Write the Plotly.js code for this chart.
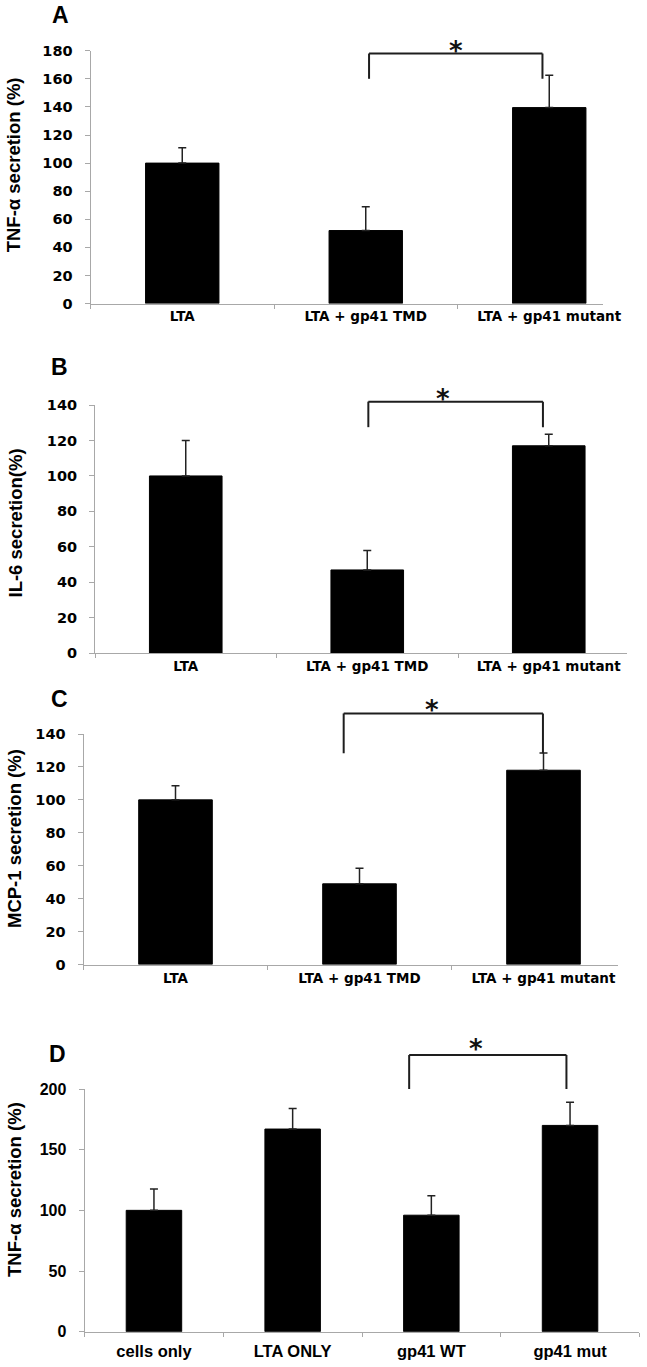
<!DOCTYPE html>
<html><head><meta charset="utf-8">
<script src="https://cdn.plot.ly/plotly-3.0.1.min.js"></script>
<style>html,body{margin:0;padding:0;background:#fff;}#chart{width:647px;height:1367px;}</style>
</head><body><div id="chart"></div>
<script>
// ---- data ----
const catsABC = ['LTA', 'LTA + gp41 TMD', 'LTA + gp41 mutant'];
const catsD = ['cells only', 'LTA ONLY', 'gp41 WT', 'gp41 mut'];
const tnfA = [100, 52, 139.5];
const tnfAErr = [11, 17, 23];
const il6B = [100, 47, 117];
const il6BErr = [20, 11, 6.5];
const mcpC = [100, 49, 118];
const mcpCErr = [8.5, 9.5, 10.5];
const tnfD = [100, 167, 96, 170];
const tnfDErr = [17.5, 17, 16, 19];
const ticksA = [0, 20, 40, 60, 80, 100, 120, 140, 160, 180];
const ticksBC = [0, 20, 40, 60, 80, 100, 120, 140];
const ticksD = [0, 50, 100, 150, 200];
const titles = ['TNF-\u03b1 secretion (%)', 'IL-6 secretion(%)', 'MCP-1 secretion (%)', 'TNF-\u03b1 secretion (%)'];
const letters = ['A', 'B', 'C', 'D'];

// ---- layout config (pixels) ----
const W = 647, H = 1367;
const panels = [
  {cats: catsABC, vals: tnfA, errs: tnfAErr, ticks: ticksA, yMax: 180,
   left: 90.5, unit: 183.5, xEnd: 2.293, top: 50.7, bottom: 303.6,
   titleX: 13.3, titleY: 165, letterX: 60, letterY: 15,
   font: 'DejaVu Sans', tickSize: 14.5, catSize: 13.5, catStand: 0,
   br: {x0: 1.018, x1: 1.963, top: 178, bottom: 160, starX: 1.49, starY: 184.8}},
  {cats: catsABC, vals: il6B, errs: il6BErr, ticks: ticksBC, yMax: 140,
   left: 95, unit: 181.5, xEnd: 2.43, top: 405, bottom: 653.3,
   titleX: 14.5, titleY: 523, letterX: 59, letterY: 366.7,
   font: 'DejaVu Sans', tickSize: 14.5, catSize: 13.5, catStand: 0,
   br: {x0: 1.006, x1: 1.968, top: 141.9, bottom: 127.5, starX: 1.42, starY: 147.5}},
  {cats: catsABC, vals: mcpC, errs: mcpCErr, ticks: ticksBC, yMax: 140,
   left: 83.5, unit: 184, xEnd: 2.405, top: 734, bottom: 964.5,
   titleX: 14, titleY: 839, letterX: 59, letterY: 699,
   font: 'DejaVu Sans', tickSize: 14.5, catSize: 13.5, catStand: 1,
   br: {x0: 0.914, x1: 1.997, top: 152.5, bottom: 128.3, starX: 1.393, starY: 158.6}},
  {cats: catsD, vals: tnfD, errs: tnfDErr, ticks: ticksD, yMax: 200,
   left: 84.6, unit: 138.7, xEnd: 3.5, top: 1089, bottom: 1331.7,
   titleX: 14, titleY: 1190, letterX: 57, letterY: 1054,
   font: 'Liberation Sans', tickSize: 16, catSize: 16.5, catStand: 4,
   br: {x0: 1.84, x1: 2.974, top: 228, bottom: 200, starX: 2.325, starY: 239}}
];

const AXC = '#a8a8a8';
const traces = [];
const layout = {
  width: W, height: H, margin: {l: 0, r: 0, t: 0, b: 0},
  paper_bgcolor: '#fff', plot_bgcolor: '#fff', showlegend: false,
  shapes: [], annotations: []
};

panels.forEach((p, i) => {
  const n = i === 0 ? '' : String(i + 1);
  const xa = 'xaxis' + n, ya = 'yaxis' + n;
  const xr = 'x' + n, yr = 'y' + n;
  const right = p.left + (p.xEnd + 0.5) * p.unit;
  const yDom = [1 - p.bottom / H, 1 - p.top / H];
  traces.push({
    type: 'bar', x: p.cats, y: p.vals, xaxis: xr, yaxis: yr, width: 0.4,
    marker: {color: '#000', line: {color: '#000', width: 1}},
    error_y: {type: 'data', symmetric: false, array: p.errs,
              arrayminus: p.errs.map(() => 0), color: '#222', thickness: 1.5, width: 4},
    hoverinfo: 'skip'
  });
  layout[xa] = {
    domain: [p.left / W, right / W], anchor: yr, type: 'category',
    range: [-0.5, p.xEnd], showline: true, linecolor: AXC, linewidth: 1,
    ticks: 'outside', tickson: 'boundaries', ticklen: 4, tickcolor: AXC,
    showgrid: false, zeroline: false, fixedrange: true, ticklabelstandoff: p.catStand,
    tickfont: {family: p.font, size: p.catSize, color: '#000', weight: 'bold'}
  };
  layout[ya] = {
    domain: yDom, anchor: xr, range: [0, p.yMax], tickvals: p.ticks,
    showline: true, linecolor: AXC, linewidth: 1, ticks: 'outside', ticklen: 5,
    tickcolor: AXC, showgrid: false, zeroline: false, fixedrange: true,
    ticklabelstandoff: 9,
    tickfont: {family: p.font, size: p.tickSize, color: '#000', weight: 'bold'}
  };
  // significance bracket
  const b = p.br;
  const fTop = b.top / p.yMax, fBot = b.bottom / p.yMax;
  const line = {color: '#1e1e1e', width: 2};
  const yd = yr + ' domain';
  layout.shapes.push(
    {type: 'line', xref: xr, yref: yd, x0: b.x0, x1: b.x1, y0: fTop, y1: fTop, line: line},
    {type: 'line', xref: xr, yref: yd, x0: b.x0, x1: b.x0, y0: fTop, y1: fBot, line: line},
    {type: 'line', xref: xr, yref: yd, x0: b.x1, x1: b.x1, y0: fTop, y1: fBot, line: line}
  );
  const starPaper = yDom[0] + (b.starY / p.yMax) * (yDom[1] - yDom[0]);
  layout.annotations.push({
    text: '*', xref: xr, yref: 'paper', x: b.starX, y: starPaper,
    xanchor: 'center', yanchor: 'middle', showarrow: false, yshift: -7,
    font: {family: 'DejaVu Sans', size: 26, color: '#111', weight: 'bold'}
  });
  // y title
  layout.annotations.push({
    text: titles[i], xref: 'paper', yref: 'paper', x: p.titleX / W, y: 1 - p.titleY / H,
    xanchor: 'center', yanchor: 'middle', textangle: -90, showarrow: false,
    font: {family: 'Liberation Sans', size: 18.5, color: '#000', weight: 'bold'}
  });
  // panel letter
  layout.annotations.push({
    text: letters[i], xref: 'paper', yref: 'paper', x: p.letterX / W, y: 1 - p.letterY / H,
    xanchor: 'center', yanchor: 'middle', showarrow: false,
    font: {family: 'Liberation Sans', size: 23, color: '#000', weight: 'bold'}
  });
});

Plotly.newPlot('chart', traces, layout, {staticPlot: true, displayModeBar: false});
</script></body></html>
